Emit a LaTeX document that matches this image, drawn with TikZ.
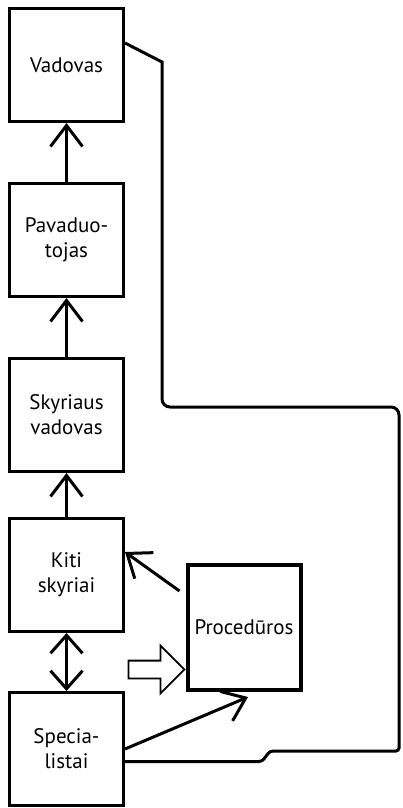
\documentclass[tikz,border=0pt]{standalone}
\usepackage{fontspec}
\setmainfont{PT Sans}
\usetikzlibrary{arrows.meta, shapes.arrows}
\tikzstyle{box} = [rectangle, draw, line width=3pt, minimum width=114pt, minimum height=113pt, inner sep=2pt, align=center, font=\fontsize{21}{25}\selectfont]
\tikzstyle{procbox} = [box, line width=4pt, minimum width=113pt, minimum height=125pt]
\tikzstyle{arrow} = [line width=3pt, -{Straight Barb[length=21pt, width=32pt]}]
\tikzstyle{dblarrow} = [line width=3pt, {Straight Barb[length=18pt, width=32pt]}-{Straight Barb[length=18pt, width=32pt]}]
\tikzstyle{line} = [line width=3pt]
\tikzstyle{hollow} = [single arrow, draw, line width=1.8pt, inner xsep=0pt, inner ysep=8pt, minimum height=56pt, single arrow head extend=15pt, single arrow head indent=0pt]

\begin{document}
\begin{tikzpicture}[x=1pt, y=-1pt]
            \useasboundingbox (0,0) rectangle (402,808);
            \node [box] at (66.5,65) (vad) {Vadovas};
            \node [box] at (66.5,240) (pav) {Pavaduo-\\tojas};
            \node [box] at (66.5,415) (sky) {Skyriaus\\vadovas};
            \node [box] at (66.5,575) (kiti) {Kiti\\skyriai};
            \node [box] at (66.5,749) (spec) {Specia-\\listai};
            \node [procbox] at (244,627.5) (proc) {Procedūros};
            \node [hollow] at (152,669.5) (push) {};

            \draw [arrow] (pav) -- (vad);
            \draw [arrow] (sky) -- (pav);
            \draw [arrow] (kiti) -- (sky);
            \draw [dblarrow] (kiti) -- (spec);
            \draw [arrow] ([shift={(-6,28)}]proc.north west) -- ([shift={(0,-23)}]kiti.east);
            \draw [arrow] (spec.east) -- ([shift={(4,5)}]proc.south);
            \draw [line] ([shift={(0,-22)}]vad.east) -- (162,62) [rounded corners=8pt] -- (162,407) -- (399,407) [rounded corners=3pt] -- (399,751) -- (270,751) -- (262,761.5) -- ([shift={(0,12.5)}]spec.east);
            \end{tikzpicture}
\end{document}
